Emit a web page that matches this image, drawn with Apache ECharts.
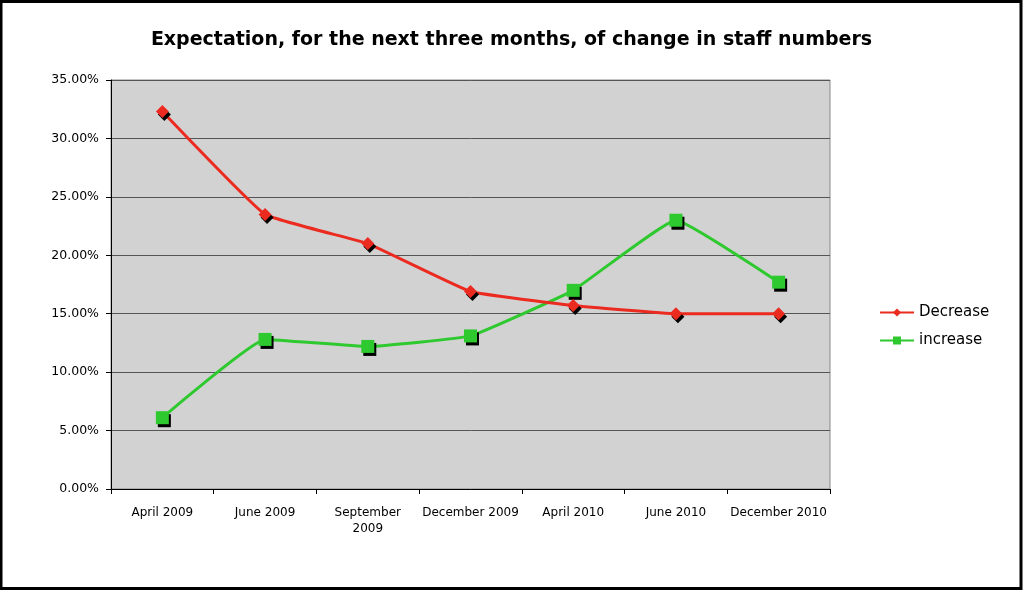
<!DOCTYPE html>
<html>
<head>
<meta charset="utf-8">
<script src="https://cdn.jsdelivr.net/npm/echarts@6/dist/echarts.min.js"></script>
<style>
html,body{margin:0;padding:0;background:#fff;}
#chart{width:1023px;height:590px;}
</style>
</head>
<body>
<div id="chart"></div>
<script>
var categories = ['April 2009','June 2009','September 2009','December 2009','April 2010','June 2010','December 2010'];
var decreaseValues = [32.3, 23.5, 21.0, 16.9, 15.7, 15.0, 15.0];
var increaseValues = [6.1, 12.8, 12.2, 13.1, 17.0, 23.0, 17.7];
var yTicks = [0, 5, 10, 15, 20, 25, 30, 35];

var chart = echarts.init(document.getElementById('chart'));
var font = 'DejaVu Sans, Verdana, sans-serif';
chart.setOption({
  backgroundColor: '#ffffff',
  animation: false,
  title: {
    text: 'Expectation, for the next three months, of change in staff numbers',
    left: 'center', top: 26,
    textStyle: {fontFamily: font, fontSize: 19, fontWeight: 'bold', color: '#000'}
  },
  graphic: [{
    type: 'rect', silent: true,
    shape: {x: 1, y: 1.5, width: 1020, height: 587},
    style: {fill: 'none', stroke: '#000', lineWidth: 3}
  }],
  legend: {
    orient: 'vertical', left: 874, top: 300, itemGap: 13,
    itemWidth: 34, itemHeight: 10,
    textStyle: {fontFamily: font, fontSize: 15, color: '#000'},
    data: ['Decrease', 'increase']
  },
  grid: {
    left: 111, top: 80, right: 193, bottom: 101,
    show: true, backgroundColor: '#d2d2d2', borderColor: '#888', borderWidth: 1
  },
  xAxis: {
    type: 'category', data: categories, boundaryGap: true,
    axisLine: {lineStyle: {color: '#000', width: 1}},
    axisTick: {show: true, length: 5, lineStyle: {color: '#000'}},
    axisLabel: {
      fontFamily: font, fontSize: 12, color: '#000', margin: 16, interval: 0, lineHeight: 16,
      formatter: function (v) { return v === 'September 2009' ? 'September\n2009' : v; }
    }
  },
  yAxis: {
    type: 'value', min: yTicks[0], max: yTicks[yTicks.length - 1], interval: 5,
    axisLine: {show: true, lineStyle: {color: '#000', width: 1}},
    axisTick: {show: true, length: 5, lineStyle: {color: '#000'}},
    splitLine: {lineStyle: {color: '#555', width: 1}},
    axisLabel: {
      fontFamily: font, fontSize: 12.5, color: '#000', margin: 12,
      formatter: function (v) { return v.toFixed(2) + '%'; }
    }
  },
  series: [{
    name: 'Decrease', type: 'line', data: decreaseValues, smooth: 0.1,
    symbol: 'diamond', symbolSize: 13,
    lineStyle: {color: '#ec2b20', width: 3},
    itemStyle: {color: '#ec2b20', shadowColor: '#000', shadowOffsetX: 2, shadowOffsetY: 3, shadowBlur: 0},
    z: 3
  }, {
    name: 'increase', type: 'line', data: increaseValues, smooth: 0.1,
    symbol: 'rect', symbolSize: 13,
    lineStyle: {color: '#2ec92e', width: 3},
    itemStyle: {color: '#2ec92e', shadowColor: '#000', shadowOffsetX: 2, shadowOffsetY: 3, shadowBlur: 0},
    z: 2
  }]
});
</script>
</body>
</html>
